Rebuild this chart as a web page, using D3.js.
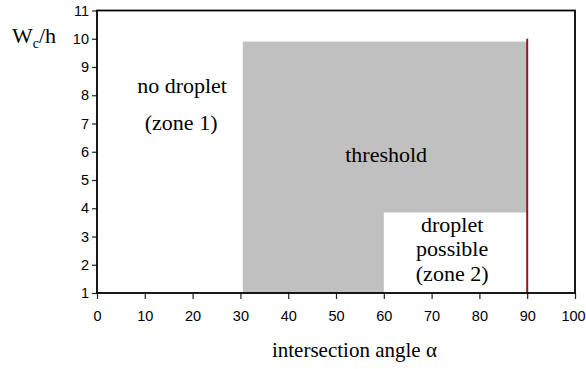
<!DOCTYPE html>
<html>
<head>
<meta charset="utf-8">
<script src="https://cdn.jsdelivr.net/npm/d3@7"></script>
<style>
  html, body { margin: 0; padding: 0; background: #fff; }
  svg { display: block; }
  .tick text { font-family: "Liberation Sans Narrow", "Liberation Sans", Arial, sans-serif; font-size: 14.5px; fill: #000; }
  .lbl { font-family: "Liberation Serif", "Times New Roman", serif; font-size: 22px; fill: #000; }
  .ttl { font-family: "Liberation Serif", "Times New Roman", serif; font-size: 21px; fill: #000; }
</style>
</head>
<body>
<svg id="chart" width="586" height="369"></svg>
<script>
// Axis ranges and tick values
const xDomain = [0, 100];
const yDomain = [1, 11];
const xTicks = [0, 10, 20, 30, 40, 50, 60, 70, 80, 90, 100];
const yTicks = [1, 2, 3, 4, 5, 6, 7, 8, 9, 10, 11];

// Threshold region (grey) and droplet-possible zone (white cut-out)
const thresholdX = [30.5, 90];
const thresholdY = [1, 9.9];
const zone2X = [60, 90];
const zone2Y = [1, 3.85];

// Vertical limit line at 90 degrees
const limitX = 90;
const limitY = [1, 10];

// Region labels: [x, y, lines]
const regionLabels = [
  { x: 17.8, y: 8.08, lines: ["no droplet"] },
  { x: 17.6, y: 6.77, lines: ["(zone 1)"] },
  { x: 60.5, y: 5.64, lines: ["threshold"] },
  { x: 74.3, y: 3.16, lines: ["droplet", "possible", "(zone 2)"] }
];

const svg = d3.select("#chart");
const m = { left: 97, right: 575, top: 10.5, bottom: 293 };

const x = d3.scaleLinear().domain(xDomain).range([m.left, m.right]);
const y = d3.scaleLinear().domain(yDomain).range([m.bottom, m.top]);

// Grey threshold rectangle
svg.append("rect")
  .attr("x", x(thresholdX[0])).attr("y", y(thresholdY[1]))
  .attr("width", x(thresholdX[1]) - x(thresholdX[0]))
  .attr("height", y(thresholdY[0]) - y(thresholdY[1]))
  .attr("fill", "#c0c0c0");

// White zone 2 rectangle
svg.append("rect")
  .attr("x", x(zone2X[0])).attr("y", y(zone2Y[1]))
  .attr("width", x(zone2X[1]) - x(zone2X[0]))
  .attr("height", y(zone2Y[0]) - y(zone2Y[1]))
  .attr("fill", "#fff");

// Limit line
svg.append("line")
  .attr("x1", x(limitX)).attr("x2", x(limitX))
  .attr("y1", y(limitY[0])).attr("y2", y(limitY[1]))
  .attr("stroke", "#8b1c1c").attr("stroke-width", 2);

// Axes
const yAxis = svg.append("g")
  .attr("transform", `translate(${m.left},0)`)
  .call(d3.axisLeft(y).tickValues(yTicks).tickFormat(d3.format("d")).tickSize(5).tickPadding(3));
const xAxis = svg.append("g")
  .attr("transform", `translate(0,${m.bottom})`)
  .call(d3.axisBottom(x).tickValues(xTicks).tickFormat(d3.format("d")).tickSize(6).tickPadding(12));
[yAxis, xAxis].forEach(g => {
  g.select(".domain").remove();
  g.selectAll(".tick line").attr("stroke", "#222").attr("stroke-width", 1.2);
});
// keep the last x label inside the page
xAxis.selectAll(".tick text").filter(d => d === 100).attr("dx", -2);

// Frame
svg.append("rect")
  .attr("x", m.left).attr("y", m.top)
  .attr("width", m.right - m.left).attr("height", m.bottom - m.top)
  .attr("fill", "none").attr("stroke", "#000").attr("stroke-width", 1.8);

// Region labels
regionLabels.forEach(l => {
  const t = svg.append("text").attr("class", "lbl")
    .attr("text-anchor", "middle");
  l.lines.forEach((s, i) => {
    t.append("tspan").attr("x", x(l.x)).attr("y", y(l.y) + i * 24.5).text(s);
  });
});

// Y axis title
const yt = svg.append("text").attr("class", "lbl").attr("x", 12).attr("y", 43);
yt.append("tspan").text("W");
yt.append("tspan").attr("font-size", "14px").attr("dy", 5).text("c");
yt.append("tspan").attr("dy", -5).text("/h");

// X axis title
svg.append("text").attr("class", "ttl")
  .attr("x", x(36.6)).attr("y", 357).attr("text-anchor", "start")
  .text("intersection angle α");
</script>
</body>
</html>
